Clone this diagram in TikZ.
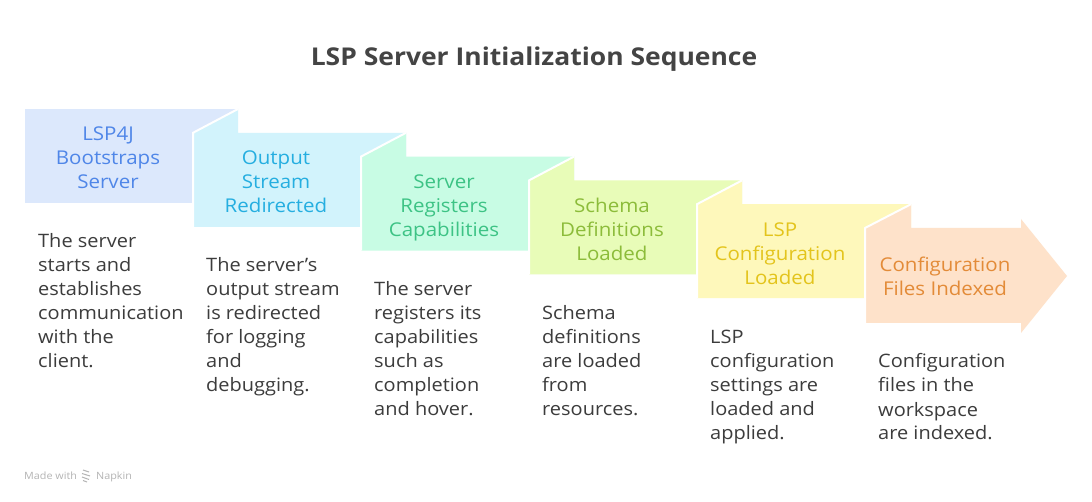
\documentclass[tikz,border=0pt]{standalone}
\usepackage{fontspec}
\setmainfont[FakeStretch=1.08]{Open Sans}
\definecolor{fillA}{HTML}{DCE8FC}\definecolor{textA}{HTML}{4F86E8}
\definecolor{fillB}{HTML}{D2F3FC}\definecolor{textB}{HTML}{25AEE0}
\definecolor{fillC}{HTML}{C8FCE4}\definecolor{textC}{HTML}{3DC385}
\definecolor{fillD}{HTML}{E8FCB8}\definecolor{textD}{HTML}{8CBC3A}
\definecolor{fillE}{HTML}{FEF8BB}\definecolor{textE}{HTML}{E3C41C}
\definecolor{fillF}{HTML}{FEE2CA}\definecolor{textF}{HTML}{E38B38}
\definecolor{desc}{HTML}{3C3C3C}
\definecolor{ttl}{HTML}{444444}
\definecolor{wmgray}{HTML}{B4B4B4}
\tikzset{
  fold/.style={draw=white, line width=2pt, line join=miter},
  steptitle/.style={anchor=base, inner sep=0pt, font=\fontsize{19}{24}\selectfont},
  stepdesc/.style={anchor=base west, inner sep=0pt, text=desc, font=\fontsize{18.5}{24}\selectfont},
}
\newcommand{\ttlbox}[2]{\parbox[t]{#1}{\centering #2}}
\newcommand{\descbox}[1]{\parbox[t]{180pt}{\raggedright #1}}
\begin{document}
\begin{tikzpicture}[x=1pt,y=-1pt]
\useasboundingbox[fill=white] (0,0) rectangle (1092,502);
% main title
\node[anchor=base, inner sep=0pt, text=ttl, font=\fontsize{24.5}{28}\selectfont\bfseries] (title) at (534,65.5) {LSP Server Initialization Sequence};
% box 1
\fill[fillA] (25,109) rectangle (238,203);
% box 2
\fill[fillB] (193,132.8) -- (238,109) -- (238,132.8) -- (406,132.8) -- (406,226.8) -- (193,226.8) -- cycle;
\draw[fold] (238,109) -- (193,132.8) -- (193,226.8);
% box 3
\fill[fillC] (361,156.6) -- (406,132.8) -- (406,156.6) -- (574,156.6) -- (574,250.6) -- (361,250.6) -- cycle;
\draw[fold] (406,132.8) -- (361,156.6) -- (361,250.6);
% box 4
\fill[fillD] (529,180.4) -- (574,156.6) -- (574,180.4) -- (742,180.4) -- (742,274.4) -- (529,274.4) -- cycle;
\draw[fold] (574,156.6) -- (529,180.4) -- (529,274.4);
% box 5
\fill[fillE] (697,204.2) -- (742,180.4) -- (742,204.2) -- (911,204.2) -- (911,298.2) -- (697,298.2) -- cycle;
\draw[fold] (742,180.4) -- (697,204.2) -- (697,298.2);
% box 6 (arrow)
\fill[fillF] (865,228) -- (911,204.2) -- (911,228) -- (1021,228) -- (1021,219) -- (1067,276) -- (1021,333) -- (1021,323) -- (865,323) -- cycle;
\draw[fold] (911,204.2) -- (865,228) -- (865,323);
% step titles
\node[steptitle, text=textA] (t1) at (108,141) {\ttlbox{160pt}{LSP4J\\Bootstraps\\Server}};
\node[steptitle, text=textB] (t2) at (276,165) {\ttlbox{160pt}{Output\\Stream\\Redirected}};
\node[steptitle, text=textC] (t3) at (444,189) {\ttlbox{160pt}{Server\\Registers\\Capabilities}};
\node[steptitle, text=textD] (t4) at (612,213) {\ttlbox{160pt}{Schema\\Definitions\\Loaded}};
\node[steptitle, text=textE] (t5) at (780,237) {\ttlbox{160pt}{LSP\\Configuration\\Loaded}};
\node[steptitle, text=textF] (t6) at (945,272) {\ttlbox{160pt}{Configuration\\Files Indexed}};
% descriptions
\node[stepdesc] (d1) at (38,248) {\descbox{The server\\starts and\\establishes\\communication\\with the\\client.}};
\node[stepdesc] (d2) at (206,272) {\descbox{The server's\\output stream\\is redirected\\for logging\\and\\debugging.}};
\node[stepdesc] (d3) at (374,296) {\descbox{The server\\registers its\\capabilities\\such as\\completion\\and hover.}};
\node[stepdesc] (d4) at (542,320) {\descbox{Schema\\definitions\\are loaded\\from\\resources.}};
\node[stepdesc] (d5) at (710,344) {\descbox{LSP\\configuration\\settings are\\loaded and\\applied.}};
\node[stepdesc] (d6) at (878,368) {\descbox{Configuration\\files in the\\workspace\\are indexed.}};
% watermark
\node[anchor=base west, inner sep=0pt, text=wmgray, font=\fontsize{10}{12}\selectfont] (mw) at (24,479) {Made with};
\node[anchor=base west, inner sep=0pt, text=wmgray, font=\fontsize{10}{12}\selectfont] (np) at (96,479) {Napkin};
\draw[wmgray, line width=1pt] (83,470) -- (89,472) (82,473.5) -- (90,476) (82,477) -- (89,479.5) (83,480.5) -- (87,482);
\end{tikzpicture}
\end{document}
